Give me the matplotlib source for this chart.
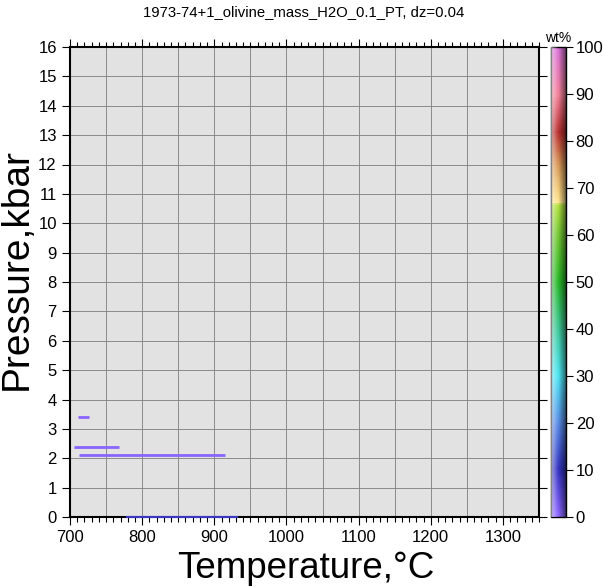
import numpy as np
import matplotlib
matplotlib.use('Agg')
import matplotlib.pyplot as plt
from matplotlib.colors import LinearSegmentedColormap, Normalize
from matplotlib.ticker import MultipleLocator

plt.rcParams['font.family'] = ['Liberation Sans', 'DejaVu Sans']

title = '1973-74+1_olivine_mass_H2O_0.1_PT, dz=0.04'

# segments of the mass field: start T, end T, pressure, value (wt%)
seg_t0 = [711, 705, 712, 778]
seg_t1 = [726, 768, 915, 933]
seg_p = [3.4, 2.4, 2.1, 0.0]
seg_val = [0.5, 0.5, 0.5, 9.0]

# colour palette stops (position, rgb)
cpt_pos = [0.0, 0.1, 0.2, 0.3, 0.4, 0.5, 0.6, 0.665, 0.67, 0.75, 0.82, 0.9, 1.0]
cpt_rgb = [(0.55, 0.4, 1.0), (0.2, 0.2, 0.75), (0.35, 0.55, 0.9), (0.3, 0.9, 0.95),
           (0.25, 0.78, 0.6), (0.15, 0.72, 0.15), (0.45, 0.78, 0.2), (0.7, 0.88, 0.25),
           (1.0, 0.9, 0.55), (0.85, 0.6, 0.35), (0.72, 0.18, 0.18), (0.95, 0.5, 0.6),
           (0.85, 0.45, 0.85)]
cmap = LinearSegmentedColormap.from_list('wt', list(zip(cpt_pos, cpt_rgb)))
norm = Normalize(0, 100)

W, H = 603, 587
fig = plt.figure(figsize=(W / 100, H / 100), dpi=100)
ax = fig.add_axes([70 / W, (H - 517) / H, (539 - 70) / W, 470 / H])
ax.set_facecolor('#e2e2e2')
ax.set_xlim(700, 1350)
ax.set_ylim(0, 16)

for t0, t1, p, v in zip(seg_t0, seg_t1, seg_p, seg_val):
    lw = 2.0 if p > 0 else 1.5
    ax.plot([t0, t1], [p, p], color=cmap(norm(v)), lw=lw, solid_capstyle='butt',
            zorder=3, clip_on=False)

ax.xaxis.set_major_locator(MultipleLocator(100))
ax.xaxis.set_minor_locator(MultipleLocator(10))
ax.yaxis.set_major_locator(MultipleLocator(1))
for x in np.arange(750, 1350, 50):
    ax.axvline(x, color='#858585', lw=0.65, zorder=1)
for y in np.arange(1, 16):
    ax.axhline(y, color='#858585', lw=0.65, zorder=1)

ax.tick_params(which='both', direction='out', top=True, right=True, labelsize=12,
               width=0.8, color='black')
ax.tick_params(which='major', length=6)
ax.tick_params(which='minor', length=3.5)
for s in ax.spines.values():
    s.set_linewidth(1.5)

fig.text(306 / W, 1 - 568 / H, 'Temperature,°C', fontsize=26.5, ha='center', va='center')
fig.text(17 / W, 1 - 269 / H, 'Pressure,kbar', fontsize=28, rotation=90,
         ha='center', va='center')
fig.text(304 / W, 1 - 12 / H, title, ha='center', va='center', fontsize=10.7)

# colour bar with GMT style illumination
cax = fig.add_axes([551 / W, (H - 517) / H, 15 / W, 470 / H])
sm = plt.cm.ScalarMappable(norm=norm, cmap=cmap)
cb = fig.colorbar(sm, cax=cax)
cb.set_ticks(np.arange(0, 101, 10))
cax.tick_params(labelsize=12, length=5, width=0.8, pad=2)
cb.outline.set_linewidth(1.0)
shade = np.zeros((2, 64, 4))
xs = np.linspace(0, 1, 64)
shade[..., :3] = np.where(xs < 0.5, 1.0, 0.0)[None, :, None]
shade[..., 3] = (np.abs(xs - 0.5) * 1.1)[None, :]
cax.imshow(shade, extent=[cax.get_xlim()[0], cax.get_xlim()[1], 0, 100], aspect='auto',
           zorder=5, interpolation='bilinear')
cax.set_ylim(0, 100)
cax.text(0.5, 1.005, 'wt%', transform=cax.transAxes, ha='center', va='bottom', fontsize=10)

fig.savefig('out.png', dpi=100)
